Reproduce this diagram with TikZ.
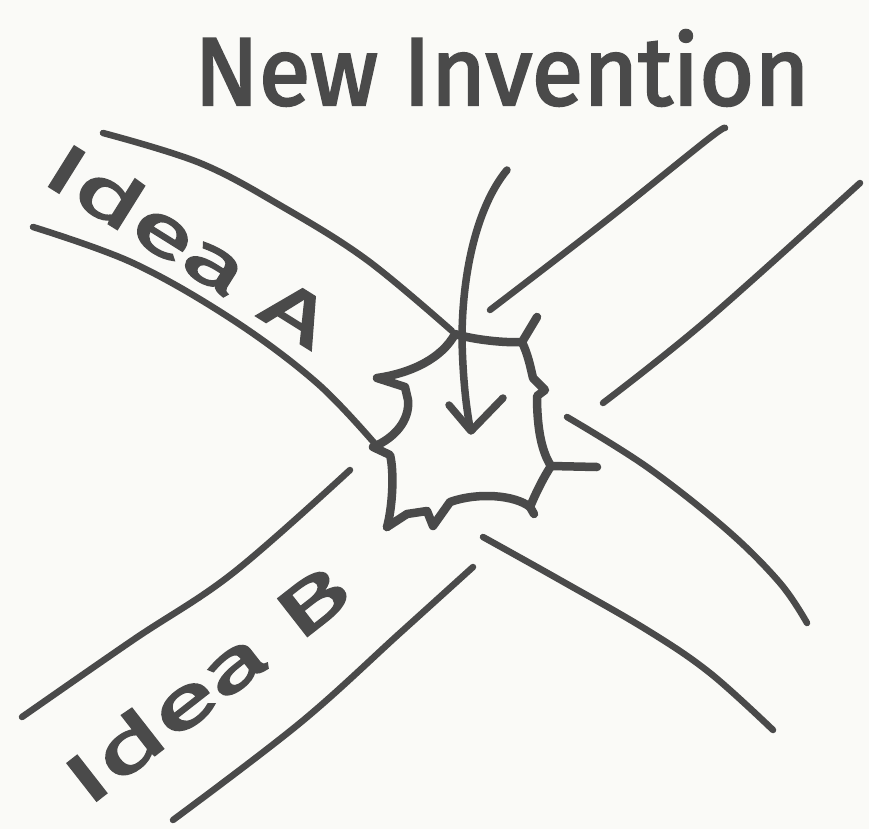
\documentclass[tikz,border=0pt]{standalone}
\usepackage{fontspec}
\setmainfont{Fira Sans}
\newfontfamily\handfont{Fira Sans}[FakeBold=2.5]
\usepackage{graphicx}
\definecolor{ink}{HTML}{4A4A4A}
\definecolor{paper}{HTML}{FAFAF7}
\tikzset{
  band/.style={ink, line width=6.5pt, line cap=round, line join=round},
  burst/.style={ink, line width=8.5pt, line cap=round, line join=round},
  pointer/.style={ink, line width=7.5pt, line cap=round, line join=round},
  lbl/.style={ink, inner sep=0pt, font=\handfont}
}
\begin{document}
\begin{tikzpicture}[x=1pt,y=-1pt]
\fill[paper] (0,0) rectangle (869,829);
\useasboundingbox (0,0) rectangle (869,829);
% labels
\node[lbl] (title) at (502,68) {\resizebox{615pt}{75pt}{New Invention}};
\node[lbl, rotate=-32] (ideaA) at (189,244) {\resizebox{320pt}{52pt}{Idea A}};
\node[lbl, rotate=38] (ideaB) at (206,683) {\resizebox{340pt}{52pt}{Idea B}};
% Idea A band
\draw[band] plot[smooth, tension=0.6] coordinates {(103,133) (200,163) (283,207) (367,260) (452,331)};
\draw[band] plot[smooth, tension=0.6] coordinates {(33,227) (133,263) (233,320) (317,383) (376,445)};
\draw[band] plot[smooth, tension=0.6] coordinates {(567,417) (647,467) (727,530) (780,583) (807,623)};
\draw[band] plot[smooth, tension=0.6] coordinates {(483,537) (560,580) (647,630) (710,673) (773,730)};
% Idea B band
\draw[band] plot[smooth, tension=0.6] coordinates {(22,717) (133,640) (233,573) (350,470)};
\draw[band] plot[smooth, tension=0.6] coordinates {(173,820) (300,723) (400,633) (473,567)};
\draw[band] plot[smooth, tension=0.6] coordinates {(490,310) (607,220) (707,140) (725,128)};
\draw[band] plot[smooth, tension=0.6] coordinates {(603,403) (707,320) (860,183)};
% burst (new invention)
\draw[burst] (377,378) .. controls (412,373) and (442,358) .. (455,334)
  .. controls (475,340) and (505,343) .. (522,342) -- (537,317);
\draw[burst] (522,342) .. controls (528,355) and (530,365) .. (533,378) -- (545,390) -- (537,396)
  .. controls (537,430) and (542,452) .. (551,466) -- (597,467);
\draw[burst] (551,466) .. controls (542,480) and (535,495) .. (530,507) -- (534,514);
\draw[burst] (530,507) .. controls (515,495) and (478,492) .. (450,502) -- (433,526) -- (427,511)
  -- (407,514) -- (387,527);
\draw[burst] (387,527) .. controls (393,505) and (394,470) .. (390,455) -- (373,447)
  .. controls (395,438) and (410,420) .. (408,400) -- (405,387) -- (377,378);
% arrow
\draw[pointer] (507,170) .. controls (478,205) and (462,270) .. (462,340)
  .. controls (463,380) and (466,405) .. (470,428);
\draw[pointer] (449,405) -- (471,431) -- (503,398);
\end{tikzpicture}
\end{document}
